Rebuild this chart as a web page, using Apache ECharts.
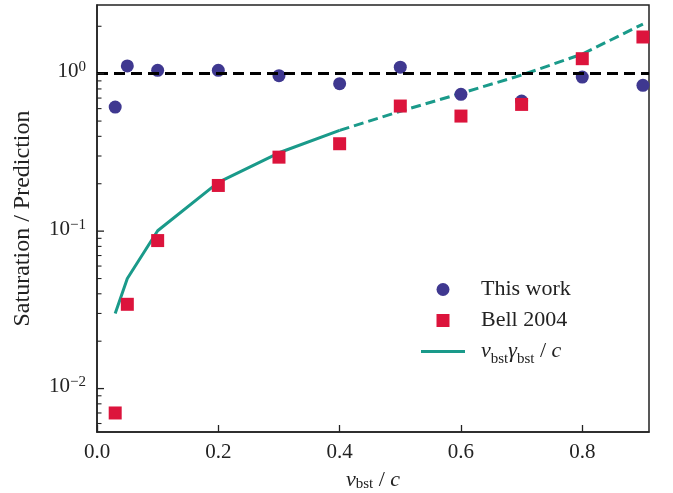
<!DOCTYPE html>
<html><head><meta charset="utf-8">
<script src="https://cdn.jsdelivr.net/npm/echarts@6/dist/echarts.min.js"></script>
<style>html,body{margin:0;padding:0;background:#fff}#c{width:673px;height:493px}</style>
</head><body><div id="c"></div>
<script>
// ---- data ----
const xValues   = [0.03, 0.05, 0.1, 0.2, 0.3, 0.4, 0.5, 0.6, 0.7, 0.8, 0.9];
const thisWork  = [0.614, 1.12, 1.05, 1.05, 0.971, 0.864, 1.10, 0.739, 0.67, 0.952, 0.843];
const bell2004  = [0.0070, 0.0343, 0.0871, 0.195, 0.295, 0.359, 0.623, 0.538, 0.638, 1.245, 1.71];
const theorySolidX = [0.03, 0.05, 0.1, 0.2, 0.3, 0.4];
const theorySolidY = [0.030, 0.050, 0.1005, 0.204, 0.3145, 0.436];
const theoryDashX  = [0.4, 0.5, 0.6, 0.7, 0.8, 0.9];
const theoryDashY  = [0.436, 0.577, 0.750, 0.980, 1.333, 2.065];
const refLevel = 1;
const xMin = 0, xMax = 0.91;
const yMin = 0.0053, yMax = 2.73;
const yMajorTicks = [0.01, 0.1, 1];
const yTickLabels = ['{b|10}{s|\u22122}', '{b|10}{s|\u22121}', '{b|10}{s|0}'];
const yMinorTicks = [0.006,0.007,0.008,0.009,0.02,0.03,0.04,0.05,0.06,0.07,0.08,0.09,0.2,0.3,0.4,0.5,0.6,0.7,0.8,0.9,2];

const FONT = 'Liberation Serif';
const INK = '#222';
const PURPLE = '#3f3890', RED = '#dc143c', TEAL = '#1a9a8a';

const mathRich = {
  n:  {fontFamily: FONT, fontSize: 22, lineHeight: 24, verticalAlign: 'middle', color: INK},
  i:  {fontFamily: FONT, fontStyle: 'italic', fontSize: 22, lineHeight: 24, verticalAlign: 'middle', color: INK},
  sub:{fontFamily: FONT, fontSize: 15, lineHeight: 14, verticalAlign: 'bottom', color: INK}
};
const supRich = {
  b: {fontFamily: FONT, fontSize: 21, lineHeight: 24, verticalAlign: 'middle', color: INK},
  s: {fontFamily: FONT, fontSize: 15, lineHeight: 14, verticalAlign: 'top', color: INK}
};

const chart = echarts.init(document.getElementById('c'), null, {renderer: 'canvas'});
chart.setOption({
  animation: false,
  backgroundColor: '#fff',
  grid: {left: 97, top: 5, width: 552, height: 427, outerBoundsMode: 'none', containLabel: false,
    show: true, borderColor: INK, borderWidth: 1.5, backgroundColor: 'transparent'},
  xAxis: {
    type: 'value', min: xMin, max: xMax, interval: 0.2,
    axisLine: {show: true, lineStyle: {color: INK, width: 1.5}},
    axisTick: {show: true, inside: true, length: 7, lineStyle: {color: INK, width: 1.3}},
    axisLabel: {show: true, margin: 10, showMaxLabel: false, formatter: v => v.toFixed(1),
      fontFamily: FONT, fontSize: 21, color: INK},
    splitLine: {show: false},
    name: '{i|v}{sub|bst}{n| / }{i|c}', nameLocation: 'middle', nameGap: 36,
    nameTextStyle: {rich: mathRich}
  },
  yAxis: {
    type: 'log', logBase: 10, min: yMin, max: yMax,
    axisLine: {show: true, lineStyle: {color: INK, width: 1.5}},
    axisTick: {show: false}, axisLabel: {show: false}, splitLine: {show: false}, minorTick: {show: false},
    name: 'Saturation / Prediction', nameLocation: 'middle', nameGap: 62,
    nameTextStyle: {fontFamily: FONT, fontSize: 24, color: INK}
  },
  legend: {
    orient: 'vertical', left: 416, top: 269, itemWidth: 44, itemHeight: 13, itemGap: 0,
    data: [
      {name: 'This work', icon: 'circle'},
      {name: 'Bell 2004', icon: 'path://M0,0H10V10H0Z'},
      {name: 'theory', icon: 'path://M0,0H44V3H0Z'}
    ],
    formatter: name => name === 'theory' ? '{i|v}{sub|bst}{i|\u03b3}{sub|bst}{n| / }{i|c}' : '{n|' + name + '}',
    textStyle: {padding: [0, 0, 0, 11], lineHeight: 31, rich: {
      n:  {fontFamily: FONT, fontSize: 22, lineHeight: 31, verticalAlign: 'middle', color: INK},
      i:  {fontFamily: FONT, fontStyle: 'italic', fontSize: 22, lineHeight: 31, verticalAlign: 'middle', color: INK},
      sub:{fontFamily: FONT, fontSize: 15, lineHeight: 17, verticalAlign: 'bottom', color: INK}
    }},
    selectedMode: false
  },
  series: [
    {
      name: 'theory', type: 'line', color: TEAL, symbol: 'none', z: 2,
      data: theorySolidX.map((x, i) => [x, theorySolidY[i]]),
      lineStyle: {color: TEAL, width: 3}
    },
    {
      name: 'theory dashed', type: 'line', color: TEAL, symbol: 'none', z: 2,
      data: theoryDashX.map((x, i) => [x, theoryDashY[i]]),
      lineStyle: {color: TEAL, width: 3, type: [10, 5]}
    },
    {
      name: 'reference', type: 'line', data: [], z: 3,
      markLine: {silent: true, symbol: 'none', label: {show: false}, animation: false,
        lineStyle: {color: '#000', width: 3, type: [11, 6]},
        data: [{yAxis: refLevel}]}
    },
    {
      name: 'This work', type: 'scatter', symbol: 'circle', symbolSize: 13, z: 4,
      color: PURPLE, itemStyle: {color: PURPLE, opacity: 1},
      data: xValues.map((x, i) => [x, thisWork[i]])
    },
    {
      name: 'Bell 2004', type: 'scatter', symbol: 'rect', symbolSize: 13, z: 5,
      color: RED, itemStyle: {color: RED, opacity: 1},
      data: xValues.map((x, i) => [x, bell2004[i]])
    },
    {
      name: 'yMajor', type: 'custom', coordinateSystem: 'cartesian2d', silent: true, z: 6, clip: false,
      dimensions: ['x', 'y', 'i'], encode: {x: 0, y: 1},
      data: yMajorTicks.map((v, i) => [xMin, v, i]),
      renderItem: (params, api) => {
        const p = api.coord([api.value(0), api.value(1)]);
        const idx = api.value(2);
        return {type: 'group', children: [
          {type: 'line', shape: {x1: p[0], y1: p[1], x2: p[0] + 7, y2: p[1]}, style: {stroke: INK, lineWidth: 1.3}},
          {type: 'text', x: p[0] - 11, y: p[1] - 2, style: {text: yTickLabels[idx], rich: supRich, align: 'right', verticalAlign: 'middle', fill: INK}}
        ]};
      }
    },
    {
      name: 'yMinor', type: 'custom', coordinateSystem: 'cartesian2d', silent: true, z: 6, clip: false,
      dimensions: ['x', 'y'], encode: {x: 0, y: 1},
      data: yMinorTicks.map(v => [xMin, v]),
      renderItem: (params, api) => {
        const p = api.coord([api.value(0), api.value(1)]);
        return {type: 'line', shape: {x1: p[0], y1: p[1], x2: p[0] + 4.5, y2: p[1]}, style: {stroke: INK, lineWidth: 1.1}};
      }
    }
  ]
});
</script></body></html>
